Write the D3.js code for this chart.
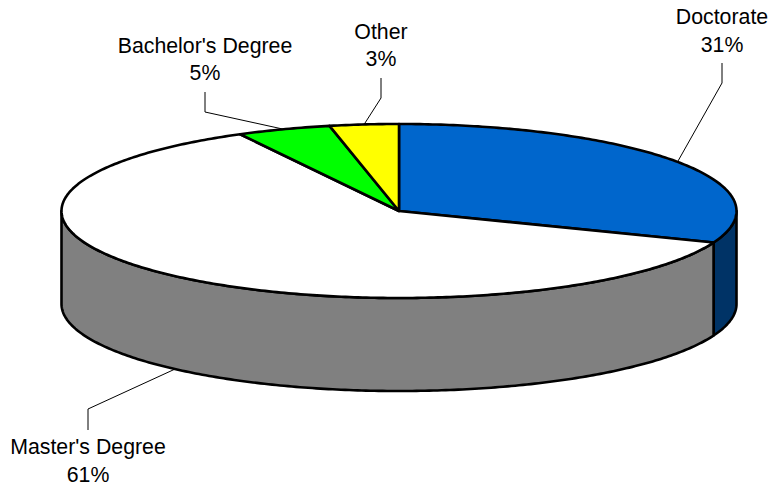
<!DOCTYPE html>
<html>
<head>
<meta charset="utf-8">
<script src="https://cdn.jsdelivr.net/npm/d3@7"></script>
<style>
  html, body { margin: 0; padding: 0; background: #fff; }
  text { font-family: "Liberation Sans", Arial, sans-serif; font-size: 21.3px; fill: #000; }
</style>
</head>
<body>
<div id="chart"></div>
<script>
// Values, labels round them to whole percents
const categories = ['Doctorate', "Master's Degree", "Bachelor's Degree", 'Other'];
const values = [30.9, 61.3, 4.5, 3.3];
const topColors = ['#0066cc', '#ffffff', '#00ff00', '#ffff00'];
const sideColors = ['#003366', '#808080', '#008000', '#808000'];

const width = 771;
const height = 488;
const cx = 399, cy = 211; // centre of the top ellipse
const rx = 337.5, ry = 87;
const depth = 93;

// label centre, elbow of the leader and baselines, same order as categories
const labelX = [722, 88, 205, 381];
const elbowY = [83, 409, 112, 98];
const endY = [63, 430, 92, 78];
const nameY = [24, 454, 53, 39];
const pctY = [52, 482, 80, 66];

const svg = d3.select('#chart').append('svg')
    .attr('width', width)
    .attr('height', height);

const pie = d3.pie().sort(null).value(d => d)(values);

// angle is clockwise from 12 o'clock, like d3.pie
const px = a => cx + rx * Math.sin(a);
const py = (a, drop) => cy - ry * Math.cos(a) + (drop || 0);
const line = d3.line();

function sample(a0, a1) {
    const n = Math.max(2, Math.ceil(Math.abs(a1 - a0) * 80));
    return d3.range(n + 1).map(i => a0 + (a1 - a0) * i / n);
}

// Side walls: only the front half of the ellipse shows
pie.forEach((d, i) => {
    const a0 = Math.max(d.startAngle, Math.PI / 2);
    const a1 = Math.min(d.endAngle, Math.PI * 1.5);
    if (a1 <= a0) return;
    const upper = sample(a0, a1).map(a => [px(a), py(a)]);
    const lower = sample(a1, a0).map(a => [px(a), py(a, depth)]);
    svg.append('path')
        .attr('d', line(upper.concat(lower)) + 'Z')
        .attr('fill', sideColors[i])
        .attr('stroke', '#000')
        .attr('stroke-width', 2.6)
        .attr('stroke-linejoin', 'round');
});

// Top face
svg.selectAll('.slice')
    .data(pie)
    .enter().append('path')
    .attr('class', 'slice')
    .attr('d', d => line([[cx, cy]].concat(sample(d.startAngle, d.endAngle).map(a => [px(a), py(a)]))) + 'Z')
    .attr('fill', (d, i) => topColors[i])
    .attr('stroke', '#000')
    .attr('stroke-width', 2.6)
    .attr('stroke-linejoin', 'round');

// Leader lines start at the slice's mid angle, on the lower rim if it faces front
svg.selectAll('.leader')
    .data(pie)
    .enter().append('polyline')
    .attr('class', 'leader')
    .attr('points', (d, i) => {
        const mid = (d.startAngle + d.endAngle) / 2;
        const front = Math.cos(mid) < 0 && Math.abs(Math.sin(mid)) < 0.9 && mid > Math.PI / 2;
        return [[px(mid), py(mid, front ? depth : 0)], [labelX[i], elbowY[i]], [labelX[i], endY[i]]].join(' ');
    })
    .attr('fill', 'none')
    .attr('stroke', '#000')
    .attr('stroke-width', 1);

svg.selectAll('.label-name')
    .data(categories)
    .enter().append('text')
    .attr('class', 'label-name')
    .attr('x', (d, i) => labelX[i])
    .attr('y', (d, i) => nameY[i])
    .attr('text-anchor', 'middle')
    .text(d => d);

svg.selectAll('.label-pct')
    .data(values)
    .enter().append('text')
    .attr('class', 'label-pct')
    .attr('x', (d, i) => labelX[i])
    .attr('y', (d, i) => pctY[i])
    .attr('text-anchor', 'middle')
    .text(d => Math.round(d) + '%');
</script>
</body>
</html>
